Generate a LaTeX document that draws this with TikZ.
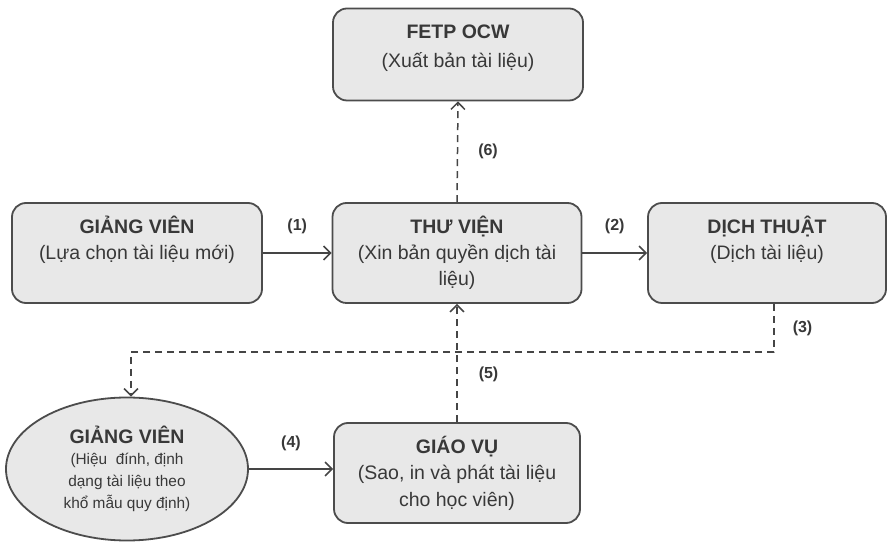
\documentclass[tikz,border=0pt]{standalone}
\usepackage{fontspec}
\setmainfont{Liberation Sans}
\usepackage{tikz}
\usetikzlibrary{positioning,shapes.geometric,arrows.meta}

\begin{document}
\begin{tikzpicture}[>={Straight Barb[length=7bp,width=14bp]},line join=bevel,
  box/.style={draw=boxline,fill=boxfill,rounded corners=14bp,align=center,text=txtcol,
    inner sep=0pt,minimum height=100bp,
    font=\fontsize{19.5bp}{26bp}\selectfont},
  twoline/.style={text height=42bp,text depth=28bp},
  threeline/.style={text height=68bp,text depth=2bp},
  oval/.style={ellipse,draw=boxline,fill=boxfill,align=center,text=txtcol,
    inner sep=0pt,minimum width=242bp,minimum height=143bp,
    font=\fontsize{15.4bp}{22bp}\selectfont},
  flow/.style={->,draw=linecol,line width=1.5bp},
  back/.style={flow,dash pattern=on 7bp off 5bp},
  numlabel/.style={text=txtcol,inner sep=0pt,font=\fontsize{16bp}{18bp}\selectfont\bfseries}]
  \pgfsetlinewidth{1.8bp}
  \definecolor{boxfill}{rgb}{0.91,0.91,0.91}
  \definecolor{boxline}{rgb}{0.30,0.30,0.30}
  \definecolor{linecol}{rgb}{0.27,0.27,0.27}
  \definecolor{txtcol}{rgb}{0.22,0.22,0.22}
  \useasboundingbox (0bp,0bp) rectangle (888bp,544bp);
%%
  % Node: fetp
  \node[box,minimum width=250bp,minimum height=92bp,text height=45bp,text depth=18bp,
    font=\fontsize{19.5bp}{29bp}\selectfont] (fetp) at (458bp,489.5bp)
    {\textbf{FETP OCW}\\(Xuất bản tài liệu)};
  % Node: gv1
  \node[box,twoline,minimum width=250bp] (gv1) at (137bp,291bp)
    {\textbf{GIẢNG VIÊN}\\(Lựa chọn tài liệu mới)};
  % Node: thuvien
  \node[box,threeline,minimum width=249bp] (thuvien) at (457bp,291bp)
    {\textbf{THƯ VIỆN}\\(Xin bản quyền dịch tài\\liệu)};
  % Node: dichthuat
  \node[box,twoline,minimum width=238bp] (dichthuat) at (767bp,291bp)
    {\textbf{DỊCH THUẬT}\\(Dịch tài liệu)};
  % Node: gv2
  \node[oval] (gv2) at (127bp,75bp)
    {{\fontsize{19.5bp}{22bp}\selectfont\bfseries GIẢNG VIÊN}\\[-1bp](Hiệu\ \ đính, định\\dạng tài liệu theo\\khổ mẫu quy định)};
  % Node: giaovu
  \node[box,threeline,minimum width=246bp,font=\fontsize{19.5bp}{26.5bp}\selectfont] (giaovu) at (457bp,71bp)
    {\textbf{GIÁO VỤ}\\(Sao, in và phát tài liệu\\cho học viên)};
%%
  % Edge: gv1 -> thuvien
  \draw[flow] (gv1) -- (thuvien) node[numlabel,midway,above=18bp] {(1)};
  % Edge: thuvien -> dichthuat
  \draw[flow] (thuvien) -- (dichthuat) node[numlabel,midway,above=18bp] {(2)};
  % Edge: dichthuat -> gv2
  \draw[back] ([xshift=7bp]dichthuat.south) -- ++(0,-48bp)
    node[numlabel,midway,right=18bp] {(3)} -| ([xshift=4bp]gv2.north);
  % Edge: gv2 -> giaovu
  \draw[flow] (gv2.east) -- (gv2.east -| giaovu.west) node[numlabel,midway,above=17bp] {(4)};
  % Edge: giaovu -> thuvien
  \draw[back] (giaovu.north) -- (thuvien.south) node[numlabel,pos=0.4,right=21bp] {(5)};
  % Edge: thuvien -> fetp
  \draw[back] (thuvien.north) -- (fetp.south) node[numlabel,midway,right=20bp] {(6)};
%
\end{tikzpicture}
\end{document}
